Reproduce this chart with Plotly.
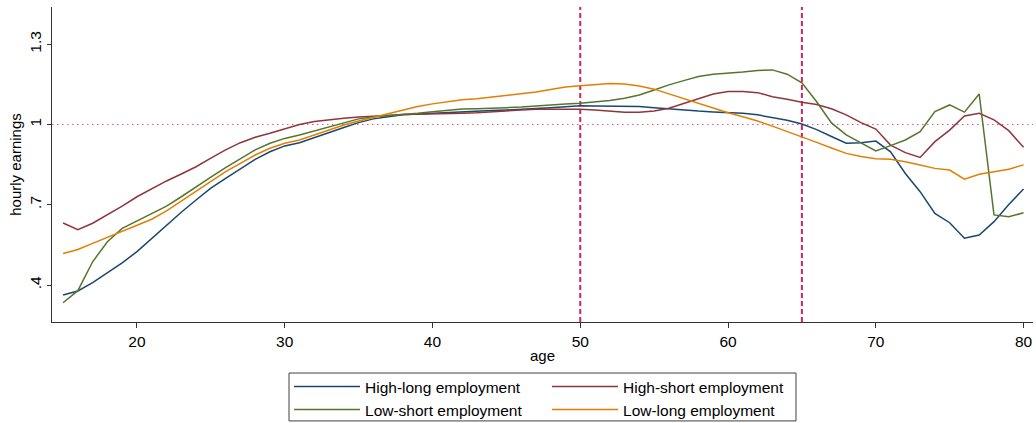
import plotly.graph_objects as go

# Age profile of relative hourly earnings by employment group
ages = list(range(15, 81))

high_long = [0.363, 0.378, 0.409, 0.446, 0.483, 0.525, 0.575, 0.624, 0.672, 0.718,
             0.762, 0.799, 0.836, 0.870, 0.898, 0.920, 0.932, 0.952, 0.971, 0.989,
             1.007, 1.021, 1.029, 1.036, 1.039, 1.042, 1.045, 1.048, 1.049, 1.052,
             1.054, 1.058, 1.060, 1.063, 1.066, 1.070, 1.069, 1.069, 1.068, 1.067,
             1.063, 1.058, 1.054, 1.050, 1.047, 1.044, 1.042, 1.036, 1.027, 1.016,
             1.002, 0.981, 0.955, 0.930, 0.932, 0.938, 0.898, 0.817, 0.749, 0.668,
             0.633, 0.575, 0.587, 0.637, 0.701, 0.759]

high_short = [0.632, 0.607, 0.631, 0.662, 0.695, 0.730, 0.761, 0.789, 0.815, 0.842,
              0.874, 0.905, 0.932, 0.952, 0.967, 0.984, 1.000, 1.011, 1.018, 1.023,
              1.028, 1.032, 1.034, 1.037, 1.038, 1.038, 1.039, 1.042, 1.044, 1.048,
              1.052, 1.054, 1.057, 1.057, 1.057, 1.057, 1.054, 1.050, 1.046, 1.046,
              1.050, 1.061, 1.079, 1.098, 1.114, 1.123, 1.123, 1.119, 1.104, 1.094,
              1.083, 1.075, 1.059, 1.036, 1.007, 0.983, 0.923, 0.895, 0.877, 0.936,
              0.979, 1.032, 1.042, 1.017, 0.977, 0.915]

low_short = [0.334, 0.379, 0.487, 0.562, 0.612, 0.639, 0.668, 0.695, 0.730, 0.765,
             0.803, 0.839, 0.873, 0.905, 0.930, 0.948, 0.961, 0.976, 0.992, 1.007,
             1.021, 1.029, 1.033, 1.038, 1.042, 1.048, 1.054, 1.058, 1.059, 1.060,
             1.063, 1.065, 1.069, 1.074, 1.077, 1.079, 1.084, 1.090, 1.098, 1.110,
             1.129, 1.148, 1.164, 1.179, 1.188, 1.191, 1.196, 1.202, 1.204, 1.188,
             1.156, 1.085, 1.006, 0.961, 0.930, 0.901, 0.921, 0.942, 0.973, 1.048,
             1.073, 1.046, 1.114, 0.662, 0.655, 0.670]

low_long = [0.518, 0.533, 0.556, 0.578, 0.599, 0.621, 0.646, 0.677, 0.714, 0.751,
            0.789, 0.824, 0.855, 0.886, 0.911, 0.930, 0.942, 0.961, 0.979, 0.998,
            1.013, 1.026, 1.039, 1.054, 1.067, 1.077, 1.085, 1.092, 1.096, 1.102,
            1.107, 1.113, 1.121, 1.131, 1.140, 1.145, 1.149, 1.153, 1.151, 1.144,
            1.132, 1.114, 1.098, 1.079, 1.062, 1.044, 1.029, 1.013, 0.994, 0.973,
            0.951, 0.933, 0.912, 0.892, 0.880, 0.872, 0.870, 0.861, 0.849, 0.836,
            0.830, 0.796, 0.814, 0.824, 0.833, 0.849]

x_ticks = [20, 30, 40, 50, 60, 70, 80]
y_ticks = [0.4, 0.7, 1.0, 1.3]
y_tick_labels = [".4", ".7", "1", "1.3"]
cutoff_ages = [50, 65]

# (name, values, colour, legend row)
series = [
    ("High-long employment", high_long, "#1a476f", "legend"),
    ("High-short employment", high_short, "#90353b", "legend"),
    ("Low-short employment", low_short, "#55752f", "legend2"),
    ("Low-long employment", low_long, "#e37e00", "legend2"),
]

fig = go.Figure()
for name, vals, color, leg in series:
    fig.add_trace(go.Scatter(x=ages, y=vals, mode="lines", name=name, legend=leg,
                             line=dict(color=color, width=1.5)))

# reference line at 1 and cut-off ages
fig.add_hline(y=1, line=dict(color="#e4577f", width=1.2, dash="1.5px,3.5px"), layer="below")
for a in cutoff_ages:
    fig.add_vline(x=a, line=dict(color="#d4245a", width=2, dash="5px,3px"), layer="below")

# frame around the two legend rows
fig.add_shape(type="rect", xref="paper", yref="paper",
              x0=0.2416, x1=0.7584, y0=-0.314, y1=-0.162,
              line=dict(color="#404040", width=1), fillcolor="rgba(0,0,0,0)")

font_family = "Liberation Sans, Arial, sans-serif"
legend_style = dict(
    orientation="h", xanchor="left", yanchor="middle",
    borderwidth=0, bgcolor="rgba(0,0,0,0)",
    entrywidth=177, entrywidthmode="pixels",
    font=dict(size=15.5, family=font_family), itemwidth=66,
)
fig.update_layout(
    width=1036, height=423,
    margin=dict(l=52, r=3, t=7, b=101, autoexpand=False),
    paper_bgcolor="white", plot_bgcolor="white",
    font=dict(family=font_family, size=15.5, color="#000000"),
    showlegend=True,
    legend=dict(x=0.2416, y=-0.206, **legend_style),
    legend2=dict(x=0.2416, y=-0.279, **legend_style),
)
fig.update_xaxes(
    range=[14.25, 80.64], tickvals=x_ticks, showgrid=False, zeroline=False,
    showline=True, linecolor="#333333", linewidth=1,
    ticks="outside", ticklen=5, tickcolor="#333333",
    title=dict(text="age", standoff=1, font=dict(size=15)),
    tickfont=dict(size=15.5),
)
fig.update_yaxes(
    range=[0.262, 1.439], tickvals=y_ticks, ticktext=y_tick_labels,
    tickangle=-90, showgrid=False, zeroline=False,
    showline=True, linecolor="#333333", linewidth=1,
    ticks="outside", ticklen=4, tickcolor="#333333",
    title=dict(text="hourly earnings", standoff=1, font=dict(size=15)),
    tickfont=dict(size=15.5),
)

fig.write_html("out.html")
